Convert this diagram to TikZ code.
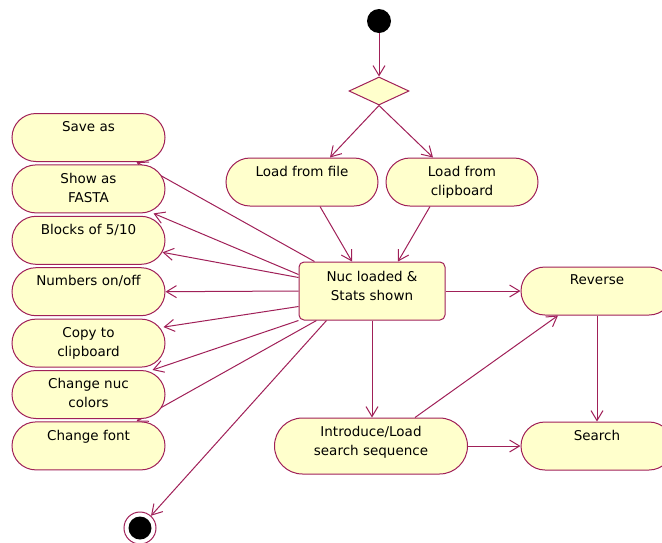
\documentclass[tikz,border=0pt]{standalone}
\usepackage{fontspec}
\setmainfont{DejaVu Sans}
\usepackage{xcolor}
\usetikzlibrary{shapes.geometric,shapes.misc,arrows.meta}
\pgfdeclarelayer{background}
\pgfsetlayers{background,main}
\definecolor{actline}{HTML}{A02058}
\definecolor{actfill}{HTML}{FFFFCC}
\newcommand{\acttext}[2][105pt]{\parbox[c][32pt][t]{#1}{\centering #2}}

\begin{document}
\begin{tikzpicture}[x=1pt,y=-1pt]
    \tikzset{Activity/.style={%
        rounded rectangle,%
        draw=actline,%
        fill=actfill,%
        line width=1pt,%
        minimum width=153pt,%
        minimum height=48pt,%
        inner sep=0pt,%
        node distance=51.4pt,%
        font=\fontsize{13.5}{19}\selectfont,%
    }}
    \tikzset{Flow/.style={%
        draw=actline,%
        line width=1pt,%
        -{Straight Barb[length=10pt,width=12pt]},%
    }}

    \useasboundingbox (0,0) rectangle (662,542);

    % start, branch and loading
    \node[circle, fill=black, minimum size=24pt, inner sep=0pt] (start) at (379,21) {};
    \node[diamond, draw=actline, fill=actfill, line width=1pt, minimum width=60pt, minimum height=28pt, inner sep=0pt] (branch) at (379,91) {};
    \node[Activity, minimum width=152pt] (file) at (302,182) {\acttext{Load from file}};
    \node[Activity, minimum width=152pt] (clip) at (462,182) {\acttext{Load from\\clipboard}};
    \node[rectangle, rounded corners=5pt, draw=actline, fill=actfill, line width=1pt,
          minimum width=146pt, minimum height=58pt, inner sep=0pt,
          font=\fontsize{13.5}{19}\selectfont] (nuc) at (372,291)
          {\parbox[c][40pt][t]{130pt}{\centering Nuc loaded \&\\Stats shown}};

    % view options
    \node[Activity] (save) at (88.5,137.5) {\acttext{Save as}};
    \node[Activity, below of=save] (fasta) {\acttext{Show as\\FASTA}};
    \node[Activity, below of=fasta] (blocks) {\acttext{Blocks of 5/10}};
    \node[Activity, below of=blocks] (numbers) {\acttext{Numbers on/off}};
    \node[Activity, below of=numbers] (copy) {\acttext{Copy to\\clipboard}};
    \node[Activity, below of=copy] (colors) {\acttext{Change nuc\\colors}};
    \node[Activity, below of=colors] (font) {\acttext{Change font}};

    % searching
    \node[Activity, minimum width=193pt, minimum height=56pt] (seq) at (371,446)
          {\parbox[c][40pt][t]{135pt}{\centering Introduce/Load\\search sequence}};
    \node[Activity, minimum width=152pt] (reverse) at (597,291) {\acttext{Reverse}};
    \node[Activity, minimum width=152pt] (search) at (597,446) {\acttext{Search}};

    % final state
    \node[circle, draw=actline, fill=white, line width=1pt, minimum size=32pt, inner sep=0pt] (end) at (140,528) {};
    \node[circle, fill=black, minimum size=23pt, inner sep=0pt] (endcore) at (end) {};

    \path[Flow] (start) -- (branch);
    \path[Flow] (branch.south) -- ([xshift=28pt]file.north);
    \path[Flow] (branch.south) -- ([xshift=-29pt]clip.north);
    \path[Flow] ([xshift=18pt]file.south) -- ([xshift=-20pt]nuc.north);
    \path[Flow] ([xshift=-32pt]clip.south) -- ([xshift=26pt]nuc.north);

    % these two run behind the boxes in between
    \begin{pgfonlayer}{background}
        \path[Flow] ([xshift=16pt]nuc.north west) -- ([xshift=48pt]save.south);
        \path[Flow] ([xshift=18pt]nuc.south west) -- ([xshift=48pt]font.north);
    \end{pgfonlayer}
    \path[Flow] ([yshift=-13pt]nuc.north west) -- ([xshift=65pt]fasta.south);
    \path[Flow] ([yshift=-16pt]nuc.north west) -- ([shift={(-3pt,-12pt)}]blocks.east);
    \path[Flow] (nuc.west) -- (numbers.east);
    \path[Flow] ([yshift=14pt]nuc.south west) -- ([shift={(-2pt,16pt)}]copy.east);
    \path[Flow] (nuc.south west) -- ([xshift=64pt]colors.north);
    \path[Flow] ([xshift=28pt]nuc.south west) -- (end);

    \path[Flow] (nuc.south) -- (nuc.south |- seq.north);
    \path[Flow] (nuc.east) -- (reverse.west);
    \path[Flow] ([xshift=44pt]seq.north) -- ([xshift=-39pt]reverse.south);
    \path[Flow] (reverse.south) -- (search.north);
    \path[Flow] (seq.east) -- (search.west);
\end{tikzpicture}
\end{document}
